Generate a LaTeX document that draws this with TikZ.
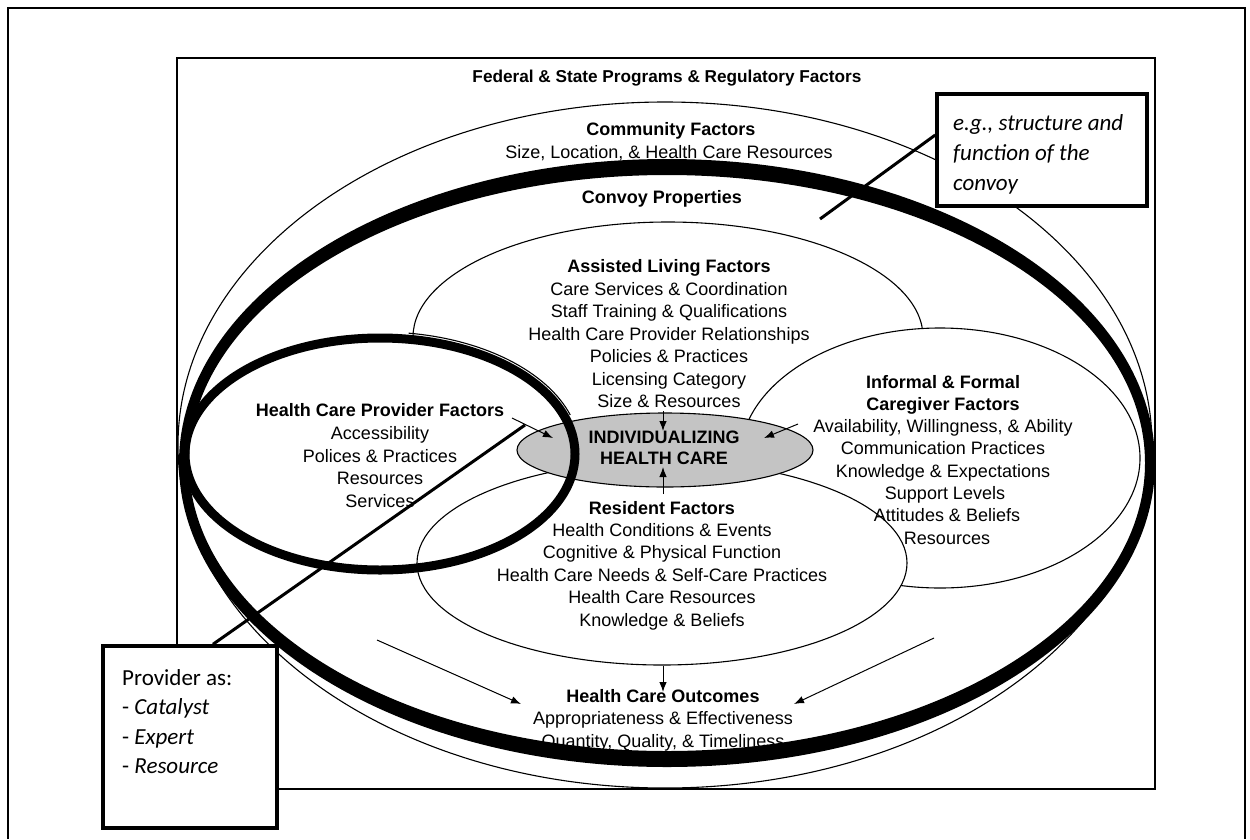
\documentclass[tikz,border=0pt]{standalone}
\usepackage{fontspec}
\setmainfont{Liberation Sans}
\newfontfamily\calfont{Carlito}
\usetikzlibrary{arrows.meta,shapes.geometric}
\definecolor{ihcgray}{RGB}{196,196,196}
\begin{document}
\begin{tikzpicture}[x=1pt,y=-1pt,
  tx/.style={anchor=base,inner sep=0pt,font=\fontsize{18}{22}\selectfont},
  hd/.style={anchor=base,inner sep=0pt,font=\bfseries\fontsize{18}{22}\selectfont},
  ct/.style={anchor=base west,inner sep=0pt,font=\calfont\fontsize{23}{28}\selectfont},
  thinline/.style={line width=1.1pt},
  ell/.style={ellipse,draw,line width=1.1pt,fill=white,inner sep=0pt},
  arr/.style={line width=1pt,-{Latex[length=10pt,width=7.5pt]}},
  callbox/.style={draw,line width=3.5pt,fill=white},
  callline/.style={line width=3pt}]
\useasboundingbox (0,0) rectangle (1250,839);

% outer frame and federal rectangle
\draw[line width=2pt] (8,839) -- (8,8) -- (1245,8) -- (1245,839);
\node[draw,line width=1.5pt,inner sep=0pt,minimum width=978pt,minimum height=731pt] (fed) at (666,423.5) {};
\node[tx,font=\bfseries\fontsize{17.2}{20}\selectfont] (title) at (667,82) {Federal \& State Programs \& Regulatory Factors};

% community ellipse
\node[ellipse,draw,thinline,inner sep=0pt,minimum width=974pt,minimum height=686pt] (comm) at (665,445) {};

% inner factor ellipses
\node[ell,minimum width=510pt,minimum height=230pt] (assist) at (668,337) {};
\fill[white] (380,454) ellipse [x radius=195pt, y radius=116pt];
\node[ell,minimum width=400pt,minimum height=260pt] (inf) at (940,458) {};
\node[ell,minimum width=490pt,minimum height=204pt] (res) at (662,563) {};
\node[ell,fill=ihcgray,minimum width=296pt,minimum height=74pt] (ihc) at (665,450) {};

% provider ellipse (thick) and thin shadow arc
\node[ellipse,draw,line width=9pt,inner sep=0pt,minimum width=390pt,minimum height=232pt] (prov) at (380,454) {};
\coordinate (pc) at (381,452);
\draw[thinline] (pc) ++(82:199pt and 120pt) arc[start angle=82,end angle=18,x radius=199pt,y radius=120pt];

% convoy band
\fill[even odd rule] (667,463) ellipse [x radius=488pt, y radius=304pt] (667,463) ellipse [x radius=478pt, y radius=288pt];

% community and convoy texts
\node[hd] (commh) at (671,135) {Community Factors};
\node[tx] (comm1) at (669,158) {Size, Location, \& Health Care Resources};
\node[hd] (convh) at (662,203) {Convoy Properties};

% assisted living
\node[hd] (ash) at (669,272) {Assisted Living Factors};
\node[tx] (as1) at (669,295) {Care Services \& Coordination};
\node[tx] (as2) at (669,317) {Staff Training \& Qualifications};
\node[tx] (as3) at (669,340) {Health Care Provider Relationships};
\node[tx] (as4) at (669,362) {Policies \& Practices};
\node[tx] (as5) at (669,385) {Licensing Category};
\node[tx] (as6) at (669,407) {Size \& Resources};

% provider factors
\node[hd] (prh) at (380,416) {Health Care Provider Factors};
\node[tx] (pr1) at (380,439) {Accessibility};
\node[tx] (pr2) at (380,462) {Polices \& Practices};
\node[tx] (pr3) at (380,484) {Resources};
\node[tx] (pr4) at (380,507) {Services};

% individualizing
\node[hd] (ihc1) at (664,443.5) {INDIVIDUALIZING};
\node[hd] (ihc2) at (664,464.5) {HEALTH CARE};

% informal & formal caregiver
\node[hd] (infh1) at (943,388) {Informal \& Formal};
\node[hd] (infh2) at (943,410.3) {Caregiver Factors};
\node[tx] (inf1) at (943,432.6) {Availability, Willingness, \& Ability};
\node[tx] (inf2) at (943,454.9) {Communication Practices};
\node[tx] (inf3) at (943,477.2) {Knowledge \& Expectations};
\node[tx] (inf4) at (945,499.5) {Support Levels};
\node[tx] (inf5) at (947,521.8) {Attitudes \& Beliefs};
\node[tx] (inf6) at (947,544.1) {Resources};

% resident
\node[hd] (resh) at (662,514) {Resident Factors};
\node[tx] (res1) at (662,536.4) {Health Conditions \& Events};
\node[tx] (res2) at (662,558.8) {Cognitive \& Physical Function};
\node[tx] (res3) at (662,581.2) {Health Care Needs \& Self-Care Practices};
\node[tx] (res4) at (662,603.6) {Health Care Resources};
\node[tx] (res5) at (662,626) {Knowledge \& Beliefs};

% outcomes
\node[hd] (outh) at (663,702) {Health Care Outcomes};
\node[tx] (out1) at (663,724.5) {Appropriateness \& Effectiveness};
\node[tx] (out2) at (663,747) {Quantity, Quality, \& Timeliness};

% arrows
\coordinate (a1s) at (663,411); \coordinate (a1e) at (663,431);
\coordinate (a2s) at (663,494); \coordinate (a2e) at (663,467);
\coordinate (a3s) at (798,424); \coordinate (a3e) at (764,438);
\coordinate (a4s) at (512,418); \coordinate (a4e) at (553,438);
\coordinate (a5s) at (663,666); \coordinate (a5e) at (663,692);
\coordinate (a6s) at (377,640); \coordinate (a6e) at (521,704);
\coordinate (a7s) at (934,638); \coordinate (a7e) at (794,704);
\draw[arr] (a1s) -- (a1e);
\draw[arr] (a2s) -- (a2e);
\draw[arr] (a3s) -- (a3e);
\draw[arr] (a4s) -- (a4e);
\draw[arr] (a5s) -- (a5e);
\draw[arr] (a6s) -- (a6e);
\draw[arr] (a7s) -- (a7e);

% callout boxes
\node[callbox,minimum width=210pt,minimum height=112pt,inner sep=0pt] (cbox) at (1042,150) {};
\node[ct] (cb1) at (953,130) {\itshape e.g., structure and};
\node[ct] (cb2) at (953,160) {\itshape function of the};
\node[ct] (cb3) at (953,190) {\itshape convoy};
\coordinate (cpt) at (820,219);
\draw[callline] (cbox.west |- 0,135) -- (cpt);

\node[callbox,minimum width=174pt,minimum height=182pt,inner sep=0pt] (pbox) at (190,737) {};
\node[ct] (pb1) at (122,685) {Provider as:};
\node[ct] (pb2) at (122,714.5) {- \textit{Catalyst}};
\node[ct] (pb3) at (122,744) {- \textit{Expert}};
\node[ct] (pb4) at (122,773.5) {- \textit{Resource}};
\coordinate (ppt) at (525,425);
\draw[callline] (pbox.north -| 213,0) -- (ppt);
\end{tikzpicture}
\end{document}
